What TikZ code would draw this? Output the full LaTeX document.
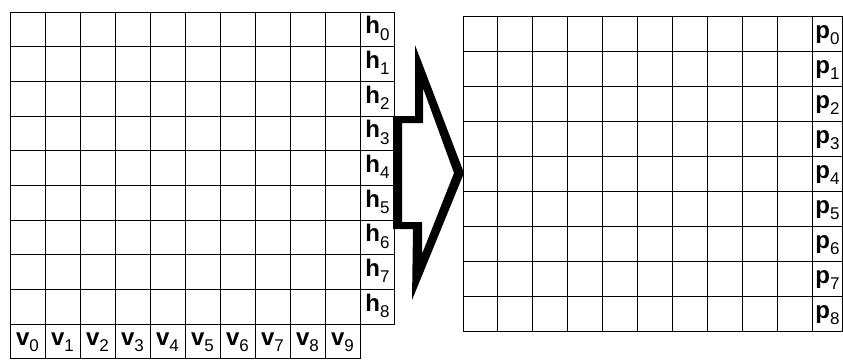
\documentclass[tikz,border=0pt]{standalone}
\usepackage{fontspec}
\setmainfont{Liberation Sans}
\newcommand\glab[2]{{\fontsize{24}{24}\selectfont\bfseries #1}\raisebox{-6.5pt}{\fontsize{17}{17}\selectfont #2}}
\begin{document}
\begin{tikzpicture}[x=1pt,y=-1pt,
  gridline/.style={line width=1pt,black},
  lab/.style={anchor=base,inner sep=0pt,outer sep=0pt}]
\useasboundingbox (0,0) rectangle (843,360);
% ---------- left grid ----------
\draw[gridline] (10,12) rectangle (394,324);
\foreach \i in {1,...,10} \draw[gridline] ({10+35*\i},12) -- ({10+35*\i},324);
\foreach \j in {1,...,8} \draw[gridline] (10,{12+34.667*\j}) -- (394,{12+34.667*\j});
\draw[gridline] (10,324) rectangle (360,358);
\foreach \i in {1,...,9} \draw[gridline] ({10+35*\i},324) -- ({10+35*\i},358);
\foreach \j in {0,...,8} \node[lab] (h\j) at (377.5,{12+34.667*(\j+1)-13}) {\glab{h}{\j}};
\foreach \i in {0,...,9} \node[lab] (v\i) at ({27.5+35*\i},345) {\glab{v}{\i}};
% ---------- right grid ----------
\draw[gridline] (463,16) rectangle (842,331);
\foreach \i in {1,...,10} \draw[gridline] ({463+34.9*\i},16) -- ({463+34.9*\i},331);
\foreach \j in {1,...,8} \draw[gridline] (463,{16+35*\j}) -- (842,{16+35*\j});
\foreach \j in {0,...,8} \node[lab] (p\j) at (827.5,{16+35*(\j+1)-13}) {\glab{p}{\j}};
% ---------- block arrow ----------
\fill[white] (402,123) -- (423,123) -- (423,88) -- (454,173) -- (422,254) -- (422,222) -- (402,222) -- cycle;
\fill[black,even odd rule]
  (393,116) -- (415,116) -- (415,45) -- (464,173) -- (412,300) -- (413,229) -- (393,229) -- cycle
  (402,123) -- (423,123) -- (423,88) -- (454,173) -- (422,254) -- (422,222) -- (402,222) -- cycle;
\end{tikzpicture}
\end{document}
